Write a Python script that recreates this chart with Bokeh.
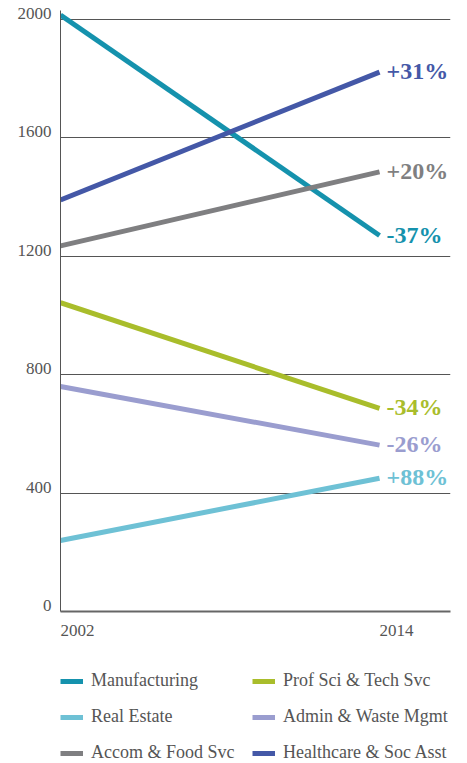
from bokeh.plotting import figure
from bokeh.layouts import column
from bokeh.models import Legend, LegendItem, FixedTicker, Range1d, ColumnDataSource
from bokeh.embed import file_html
from bokeh.resources import INLINE
from bokeh.core.properties import value

years = [2002, 2014]
series_names = ["Manufacturing", "Real Estate", "Accom & Food Svc",
                "Prof Sci & Tech Svc", "Admin & Waste Mgmt", "Healthcare & Soc Asst"]
manufacturing = [2015, 1270]
real_estate = [240, 450]
accom_food = [1235, 1485]
prof_sci = [1043, 686]
admin_waste = [760, 562]
healthcare = [1390, 1822]
change_labels = ["-37%", "+88%", "+20%", "-34%", "-26%", "+31%"]
colors = ["#1592AD", "#6EC1D5", "#7F7F81", "#A9BD2B", "#9A9DCF", "#4458A7"]
y_ticks = [0, 400, 800, 1200, 1600, 2000]
x_ticks = [2002, 2014]

series_values = [manufacturing, real_estate, accom_food, prof_sci, admin_waste, healthcare]

FONT = "Liberation Serif"

X0, X1 = 2002, 2016.67
Y0, Y1 = 0, 2030
FRAME_W, FRAME_H = 390, 601

p = figure(width=467, height=650, output_backend="svg", toolbar_location=None,
           x_range=Range1d(X0, X1), y_range=Range1d(Y0, Y1),
           min_border_left=60, min_border_right=17, min_border_top=10,
           min_border_bottom=39)
p.outline_line_color = None
p.background_fill_color = "white"

p.xgrid.grid_line_color = None
p.ygrid.grid_line_color = "#555555"
p.ygrid.grid_line_width = 1
p.ygrid.ticker = FixedTicker(ticks=y_ticks)

# labels sit just above their gridline (baseline on the line), as in the reference
y_shift = 6 * (Y1 - Y0) / FRAME_H
y_label_pos = [t + y_shift for t in y_ticks]
p.yaxis.ticker = FixedTicker(ticks=y_label_pos)
p.yaxis.major_label_overrides = {pos: str(t) for pos, t in zip(y_label_pos, y_ticks)}
p.yaxis.axis_line_color = "#555555"
p.yaxis.axis_line_width = 1
p.yaxis.major_tick_line_color = None
p.yaxis.minor_tick_line_color = None
p.yaxis.major_label_text_font = FONT
p.yaxis.major_label_text_font_size = "17px"
p.yaxis.major_label_text_color = "#555555"
p.yaxis.major_label_standoff = 3

# x labels start at their tick (left aligned)
x_shift = 17 * (X1 - X0) / FRAME_W
x_label_pos = [t + x_shift for t in x_ticks]
p.xaxis.ticker = FixedTicker(ticks=x_label_pos)
p.xaxis.major_label_overrides = {pos: str(t) for pos, t in zip(x_label_pos, x_ticks)}
p.xaxis.axis_line_color = "#666666"
p.xaxis.axis_line_width = 2
p.xaxis.major_tick_line_color = None
p.xaxis.minor_tick_line_color = None
p.xaxis.major_label_text_font = FONT
p.xaxis.major_label_text_font_size = "17px"
p.xaxis.major_label_text_color = "#555555"
p.xaxis.major_label_standoff = 7

# legend-only figure
pl = figure(width=467, height=113, output_backend="svg", toolbar_location=None,
            x_range=Range1d(0, 1), y_range=Range1d(0, 1),
            min_border_left=0, min_border_right=0, min_border_top=0,
            min_border_bottom=0)
pl.axis.visible = False
pl.grid.visible = False
pl.outline_line_color = None

items = []
for name, vals, col, lab in zip(series_names, series_values, colors, change_labels):
    p.line(years, vals, line_color=col, line_width=5)
    src = ColumnDataSource(dict(x=[years[-1]], y=[vals[-1]], t=[lab]))
    p.text("x", "y", "t", source=src, text_color=col,
           text_font=value(FONT), text_font_size="24px", text_font_style="bold",
           text_baseline="middle", text_align="left", x_offset=7, y_offset=-1)
    r = pl.line(years, vals, line_color=col, line_width=5)
    items.append(LegendItem(label=name, renderers=[r]))

legend = Legend(items=items, location=(0, 0), orientation="vertical", ncols=2,
                label_text_font=FONT, label_text_font_size="18px",
                label_text_color="#555555", glyph_width=23, glyph_height=20,
                label_height=20, label_width=146, label_standoff=8, spacing=15,
                padding=0, margin=0, border_line_color=None,
                background_fill_alpha=0)
pl.add_layout(legend, "center")

layout = column(p, pl, spacing=0)
open("out.html", "w").write(file_html(layout, INLINE))
